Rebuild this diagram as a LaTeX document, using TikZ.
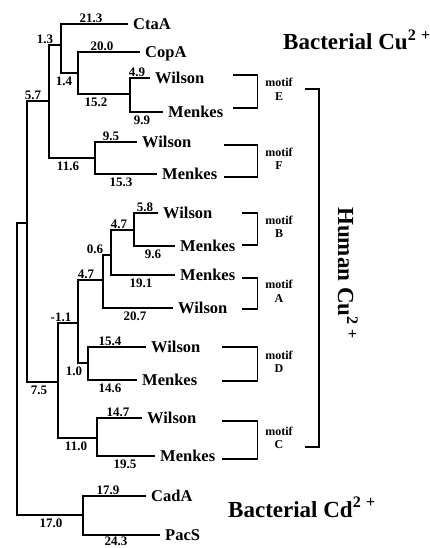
\documentclass[tikz,border=0pt]{standalone}
\usepackage{fontspec}
\setmainfont{Liberation Serif}
\usepackage{tikz}
\usetikzlibrary{positioning}

\tikzset{
    branch/.style={line width=1.1pt},
    leaf/.style={anchor=west, inner xsep=5pt, inner ysep=0pt, text height=11pt, text depth=0pt,
        font=\fontsize{16.5}{16.5}\selectfont\bfseries},
    brlen/.style={inner sep=0pt, font=\fontsize{13}{13}\selectfont\bfseries},
    lenup/.style={brlen, anchor=south, yshift=1pt},
    lendn/.style={brlen, anchor=north, yshift=-3.5pt},
    lenlow/.style={brlen, anchor=north, yshift=-2pt},
    motiflabel/.style={align=center, inner sep=0pt, font=\fontsize{12}{13.5}\selectfont\bfseries},
    group/.style={inner sep=0pt, font=\fontsize{23}{23}\selectfont\bfseries}
}

\begin{document}
\begin{tikzpicture}[x=1pt, y=-1pt]
    \path[fill=white, use as bounding box] (0,0) rectangle (429,548);

    % inner nodes of the tree
    \coordinate (root) at (17,369);
    \coordinate (ncu) at (27,223);
    \coordinate (na) at (49,101);
    \coordinate (nb) at (61,45);
    \coordinate (nc) at (78,73);
    \coordinate (ne) at (130,94);
    \coordinate (nf) at (95,158);
    \coordinate (nh) at (58,382);
    \coordinate (ng) at (78,323);
    \coordinate (ni) at (103,280);
    \coordinate (nj) at (111,255);
    \coordinate (nk) at (134,230);
    \coordinate (nd) at (88,363);
    \coordinate (nl) at (97,438);
    \coordinate (ncd) at (83,515);

    % leaves
    \foreach \n/\x/\y/\t in {ctaa/128/24/CtaA, copa/140/52/CopA,
        wile/150/78/Wilson, mene/163/112/Menkes, wilf/137/142/Wilson, menf/157/174/Menkes,
        wilb/158/213/Wilson, menb/175/246/Menkes, mena/175/275/Menkes, wila/173/308/Wilson,
        wild/146/347/Wilson, mend/137/380/Menkes, wilc/142/418/Wilson, menc/155/456/Menkes,
        cada/146/496/CadA, pacs/160/535/PacS}
        \node[leaf] (\n) at (\x,\y) {\t};

    % branches
    \foreach \p/\c in {root/ncu, root/ncd, ncu/na, ncu/nh, na/nb, na/nf, nb/ctaa, nb/nc,
        nc/copa, nc/ne, ne/wile, ne/mene, nf/wilf, nf/menf, nh/ng, nh/nl, ng/ni, ng/nd,
        ni/nj, ni/wila, nj/nk, nj/mena, nk/wilb, nk/menb, nd/wild, nd/mend,
        nl/wilc, nl/menc, ncd/cada, ncd/pacs}
        \draw[branch] (\p) |- (\c);

    % branch lengths
    \foreach \x/\y/\s/\t [count=\i] in {91/24/up/21.3, 102/52/up/20.0, 137/78/up/4.9,
        142/112/dn/9.9, 96/94/dn/15.2, 64/73/dn/1.4, 45/45/up/1.3, 33/101/up/5.7,
        68/158/dn/11.6, 111/142/up/9.5, 121/174/dn/15.3, 61/323/up/-1.1, 86/280/up/4.7,
        95/255/up/0.6, 119/230/up/4.7, 145/213/up/5.8, 153/246/dn/9.6, 141/275/dn/19.1,
        135/308/dn/20.7, 74/363/dn/1.0, 110/347/up/15.4, 110/380/dn/14.6, 39/382/dn/7.5,
        76/438/dn/11.0, 118/418/up/14.7, 125/456/dn/19.5, 108/496/up/17.9,
        116/535/low/24.3, 51/515/dn/17.0}
        \node[len\s] (bl\i) at (\x,\y) {\t};

    % motif brackets
    \foreach \m/\xl/\yt/\yb in {E/233/75/108, F/224/145/177, B/242/213/245,
        A/242/278/309, D/222/347/381, C/222/421/459}
    {
        \draw[branch] (\xl,\yt) -| (257.5,\yb) -- (\xl,\yb);
        \node[motiflabel] (motif\m) at (279,{(\yt+\yb)/2-2}) {motif\\\m};
    }
    \draw[branch] (305,89) -| (319,447) -- (305,447);

    % groups
    \node[group, anchor=base west] (bactcu) at (283,50) {Bacterial Cu\textsuperscript{2\,\,+}};
    \node[group, anchor=base west, rotate=-90] (humancu) at (338,207) {Human Cu\textsuperscript{2\,\,+}};
    \node[group, anchor=base west] (bactcd) at (228,517) {Bacterial Cd\textsuperscript{2\,\,+}};
\end{tikzpicture}
\end{document}
